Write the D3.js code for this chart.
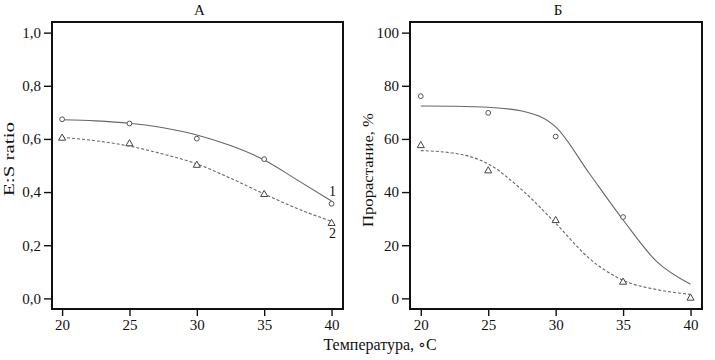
<!DOCTYPE html>
<html>
<head>
<meta charset="utf-8">
<script src="https://cdn.jsdelivr.net/npm/d3@7"></script>
<style>
body { margin: 0; background: #fff; }
text { font-family: "Liberation Serif", "DejaVu Serif", serif; fill: #111; }
</style>
</head>
<body>
<script>
// temperatures of the measurements
var temps = [20, 25, 30, 35, 40];

// panel A: E:S ratio, measured points
var ratio1 = [0.674, 0.658, 0.601, 0.524, 0.356];
var ratio2 = [0.603, 0.582, 0.501, 0.391, 0.282];
// panel A: fitted curves
var curveT = [20, 22.5, 25, 27.5, 30, 32.5, 35, 37.5, 40];
var ratioFit1 = [0.672, 0.668, 0.659, 0.642, 0.615, 0.575, 0.521, 0.444, 0.366];
var ratioFit2 = [0.606, 0.593, 0.573, 0.543, 0.506, 0.452, 0.393, 0.337, 0.290];

// panel Б: germination %, measured points (no circle visible at 40)
var germ1 = [76.1, 69.8, 60.9, 30.6, null];
var germ2 = [57.5, 48.0, 29.3, 6.1, 0.1];
var germFit1 = [72.4, 72.3, 71.9, 70.5, 64.5, 47.0, 29.5, 13.8, 5.3];
var germFit2 = [55.6, 54.6, 50.6, 40.8, 28.3, 15.0, 6.8, 3.3, 1.5];

var ticksX = [20, 25, 30, 35, 40];
var ticksA = [0, 0.2, 0.4, 0.6, 0.8, 1.0];
var ticksB = [0, 20, 40, 60, 80, 100];

var W = 715, H = 360;
var plotTop = 22, plotBottom = 309;
var lineCol = "#666";

var svg = d3.select("body").append("svg")
  .attr("width", W)
  .attr("height", H);

function comma(d) { return d3.format(".1f")(d).replace(".", ","); }

function panel(opt) {
  var x = d3.scaleLinear().domain(opt.xdom).range([opt.left, opt.right]);
  var y = d3.scaleLinear().domain(opt.ydom).range([plotBottom, plotTop]);
  var g = svg.append("g");

  // axes with outward ticks, domain line replaced by the frame
  var xa = g.append("g")
    .attr("transform", "translate(0," + plotBottom + ")")
    .call(d3.axisBottom(x).tickValues(ticksX).tickSize(7).tickSizeOuter(0).tickPadding(3));
  var ya = g.append("g")
    .attr("transform", "translate(" + opt.left + ",0)")
    .call(d3.axisLeft(y).tickValues(opt.yticks).tickFormat(opt.fmt).tickSize(8).tickSizeOuter(0).tickPadding(3));
  [xa, ya].forEach(function(a) {
    a.select(".domain").remove();
    a.selectAll("line").attr("stroke", "#111").attr("stroke-width", 1.4);
    a.selectAll("text").style("font-size", "15px").style("font-family", "Liberation Serif").attr("fill", "#111");
  });

  g.append("rect")
    .attr("x", opt.left).attr("y", plotTop)
    .attr("width", opt.right - opt.left).attr("height", plotBottom - plotTop)
    .attr("fill", "none").attr("stroke", "#111").attr("stroke-width", 2);

  var line = d3.line()
    .x(function(d, i) { return x(curveT[i]); })
    .y(function(d) { return y(d); })
    .curve(d3.curveMonotoneX);

  g.append("path").datum(opt.fit1).attr("d", line)
    .attr("fill", "none").attr("stroke", lineCol).attr("stroke-width", 1.1);
  g.append("path").datum(opt.fit2).attr("d", line)
    .attr("fill", "none").attr("stroke", lineCol).attr("stroke-width", 1.1)
    .attr("stroke-dasharray", "3,2");

  // circles (series 1)
  g.selectAll(".c").data(opt.pts1.map(function(v, i) { return [temps[i], v]; })
      .filter(function(d) { return d[1] != null; }))
    .enter().append("circle")
    .attr("cx", function(d) { return x(d[0]); })
    .attr("cy", function(d) { return y(d[1]); })
    .attr("r", 2.4)
    .attr("fill", "#fff").attr("stroke", "#555").attr("stroke-width", 1);

  // triangles (series 2)
  var tri = d3.symbol().type(d3.symbolTriangle).size(22);
  g.selectAll(".t").data(opt.pts2.map(function(v, i) { return [temps[i], v]; }))
    .enter().append("path")
    .attr("d", tri)
    .attr("transform", function(d) { return "translate(" + x(d[0]) + "," + y(d[1]) + ")"; })
    .attr("fill", "#fff").attr("stroke", "#444").attr("stroke-width", 1);

  g.append("text")
    .attr("x", (opt.left + opt.right) / 2 + 2)
    .attr("y", 15)
    .attr("text-anchor", "middle")
    .style("font-size", "15px")
    .text(opt.title);

  g.append("text")
    .attr("transform", "translate(" + opt.ylabX + "," + opt.ylabY + ") rotate(-90)")
    .attr("text-anchor", "middle")
    .attr("dominant-baseline", "middle")
    .attr("textLength", opt.ylabLen)
    .attr("lengthAdjust", "spacingAndGlyphs")
    .style("font-size", "15px")
    .text(opt.ylab);

  return { x: x, y: y, g: g };
}

var pA = panel({
  left: 52, right: 343, xdom: [19.25, 40.85], ydom: [-0.04, 1.04],
  yticks: ticksA, fmt: comma,
  fit1: ratioFit1, fit2: ratioFit2, pts1: ratio1, pts2: ratio2,
  title: "А", ylab: "E:S ratio", ylabX: 11, ylabY: 159, ylabLen: 74
});

var pB = panel({
  left: 410, right: 702, xdom: [19.2, 40.85], ydom: [-4, 104],
  yticks: ticksB, fmt: d3.format("d"),
  fit1: germFit1, fit2: germFit2, pts1: germ1, pts2: germ2,
  title: "Б", ylab: "Прорастание, %", ylabX: 370, ylabY: 170, ylabLen: 114
});

// curve numbers in panel A
pA.g.append("text")
  .attr("x", pA.x(40) + 1).attr("y", pA.y(0.397))
  .attr("text-anchor", "middle").attr("dominant-baseline", "middle")
  .style("font-size", "14px").text("1");
pA.g.append("text")
  .attr("x", pA.x(40) + 1).attr("y", pA.y(0.238))
  .attr("text-anchor", "middle").attr("dominant-baseline", "middle")
  .style("font-size", "14px").text("2");

// shared x label
svg.append("text")
  .attr("x", 380).attr("y", 350)
  .attr("text-anchor", "middle")
  .style("font-size", "16px")
  .text("Температура, ∘C");
</script>
</body>
</html>
